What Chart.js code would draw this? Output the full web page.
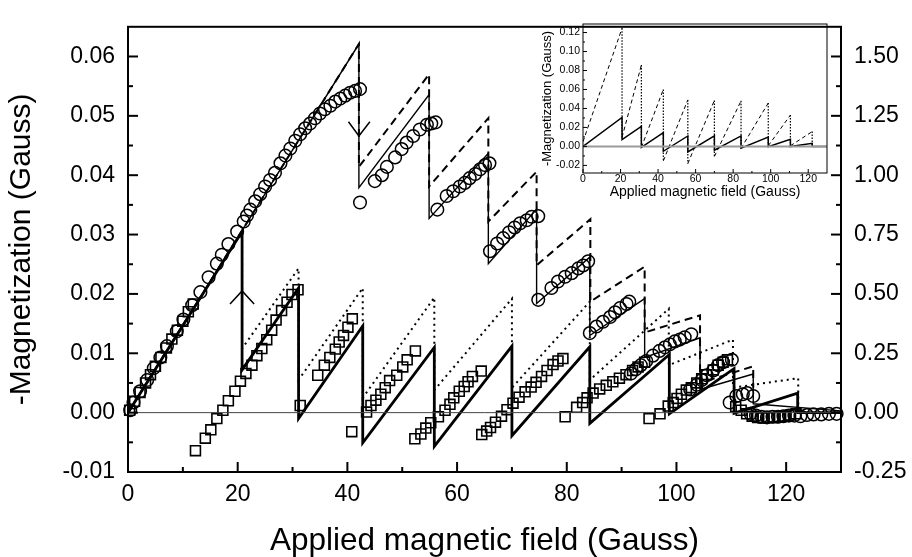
<!DOCTYPE html>
<html>
<head>
<meta charset="utf-8">
<script src="https://cdn.jsdelivr.net/npm/chart.js@4/dist/chart.umd.min.js"></script>
<style>
  body { margin: 0; background: #fff; }
  #wrap { position: relative; width: 912px; height: 557px; }
  #main { position: absolute; left: 0; top: 0; }
  #inset { position: absolute; left: 530px; top: 14px; }
</style>
</head>
<body>
<div id="wrap">
  <canvas id="main" width="912" height="557"></canvas>
  <canvas id="inset" width="305" height="190"></canvas>
</div>
<script>
// ---- measured data (Gauss) ----
const CIRCLE_X = [0.4, 1.0, 2.2, 3.5, 4.7, 5.9, 7.1, 8.9, 10.1, 11.7, 13.2, 14.7, 16.2, 17.1, 18.3, 19.9, 21.1, 21.7, 22.3, 23.2,
  24.1, 25.0, 25.9, 26.8, 27.8, 28.7, 29.6, 30.5, 31.4, 32.3, 33.2, 34.1, 35.0, 35.9, 36.9, 37.8, 38.7, 39.6, 40.5, 41.4, 42.3,
  42.3, 45.0, 46.3, 47.2, 48.7, 49.9, 50.8, 52.0, 53.2, 54.5, 55.3, 56.1,
  56.4, 58.1, 59.3, 60.5, 61.4, 62.3, 63.3, 64.2, 65.1, 65.9,
  66.0, 67.3, 68.4, 69.5, 70.5, 71.5, 72.7, 73.6, 74.8,
  74.8, 77.2, 78.4, 79.7, 80.9, 82.1, 83.0, 83.9,
  84.2, 85.4, 86.6, 87.9, 88.8, 89.7, 90.9, 91.4,
  91.7, 92.6, 93.5, 94.5, 95.7, 96.9, 97.9, 98.8, 99.7, 100.6, 101.5, 102.7,
  102.5, 103.7, 104.6, 105.5, 106.7, 107.6, 108.5, 110.1,
  109.7, 110.9, 112.1, 112.9, 114.0,
  113.5, 114.5, 115.5, 116.5, 117.5, 118.5, 119.5, 120.5, 121.5, 122.6, 123.8, 125.0, 126.4, 127.8, 129.2];
const CIRCLE_Y = [0.0004, 0.0017, 0.0036, 0.0055, 0.0075, 0.0093, 0.0112, 0.0137, 0.0157, 0.0181, 0.0203, 0.0228, 0.0251, 0.0266, 0.0284, 0.0305, 0.0322, 0.0332, 0.0342, 0.0356,
  0.0368, 0.0381, 0.0392, 0.0404, 0.0420, 0.0433, 0.0445, 0.0458, 0.0469, 0.0479, 0.0487, 0.0496, 0.0504, 0.0511, 0.0517, 0.0524, 0.0529, 0.0534, 0.0539, 0.0542, 0.0545,
  0.0354, 0.0390, 0.0400, 0.0414, 0.0430, 0.0444, 0.0455, 0.0466, 0.0477, 0.0485, 0.0487, 0.0489,
  0.0342, 0.0365, 0.0373, 0.0381, 0.0387, 0.0395, 0.0402, 0.0410, 0.0417, 0.0420,
  0.0272, 0.0285, 0.0294, 0.0304, 0.0312, 0.0319, 0.0324, 0.0330, 0.0331,
  0.0190, 0.0210, 0.0221, 0.0229, 0.0235, 0.0243, 0.0248, 0.0255,
  0.0134, 0.0145, 0.0153, 0.0161, 0.0169, 0.0176, 0.0183, 0.0187,
  0.0066, 0.0073, 0.0080, 0.0087, 0.0096, 0.0104, 0.0110, 0.0115, 0.0120, 0.0123, 0.0127, 0.0132,
  0.0039, 0.0047, 0.0055, 0.0063, 0.0071, 0.0080, 0.0085, 0.0089,
  0.0017, 0.0028, 0.0031, 0.0033, 0.0028,
  -0.0002, -0.0005, -0.0007, -0.0008, -0.0007, -0.0007, -0.0006, -0.0005, -0.0005, -0.0006, -0.0004, -0.0003, -0.0003, -0.0002, -0.0002];

const SQUARE_X = [0.3, 1.2, 2.2, 3.2, 4.1, 5.0, 6.0, 7.0, 8.0, 9.0, 10.0, 11.0, 11.9,
  12.3, 14.1, 15.1, 16.2, 17.3, 18.3, 19.5, 20.5, 21.5, 22.6, 23.5, 24.4, 25.3, 26.2, 27.0, 28.0, 29.0, 29.9, 31.0,
  31.4, 34.6, 35.8, 36.8, 37.8, 38.5, 39.3, 40.1, 40.9,
  40.8, 43.5, 44.3, 45.2, 46.1, 46.9, 47.7, 49.0, 50.1, 50.9, 52.4,
  52.3, 53.4, 54.3, 55.2, 56.6, 57.8, 58.7, 59.4, 60.4, 61.3, 62.0, 62.8, 64.4,
  64.5, 65.4, 66.1, 67.0, 68.1, 69.1, 70.2, 71.3, 72.4, 73.5, 74.4, 75.4, 76.4, 77.5, 78.4, 79.3,
  79.7, 81.8, 82.9, 83.7, 84.8, 86.0, 87.2, 88.4, 89.6, 90.8, 92.0, 93.0, 94.2,
  95.0, 97.0, 98.5, 99.4, 100.1, 100.9, 101.8, 102.7, 103.7, 104.6, 105.5, 106.7, 107.6, 108.5, 109.3,
  110.8, 111.8, 112.8, 113.8, 114.8, 115.8, 116.8, 117.8, 118.8, 119.8, 120.8, 121.8];
const SQUARE_Y = [0.0004, 0.0019, 0.0034, 0.0050, 0.0064, 0.0078, 0.0093, 0.0109, 0.0124, 0.0139, 0.0154, 0.0170, 0.0183,
  -0.0064, -0.0043, -0.0029, -0.0010, 0.0004, 0.0020, 0.0036, 0.0053, 0.0066, 0.0080, 0.0096, 0.0108, 0.0123, 0.0139, 0.0156, 0.0172, 0.0186, 0.0199, 0.0207,
  0.0012, 0.0063, 0.0080, 0.0093, 0.0107, 0.0119, 0.0130, 0.0144, 0.0158,
  -0.0032, 0.0001, 0.0012, 0.0021, 0.0031, 0.0042, 0.0054, 0.0063, 0.0077, 0.0089, 0.0104,
  -0.0044, -0.0036, -0.0026, -0.0017, -0.0007, 0.0004, 0.0014, 0.0025, 0.0036, 0.0044, 0.0052, 0.0061, 0.0070,
  -0.0037, -0.0031, -0.0025, -0.0016, -0.0006, 0.0005, 0.0016, 0.0026, 0.0035, 0.0043, 0.0051, 0.0061, 0.0071, 0.0081, 0.0087, 0.0091,
  -0.0007, 0.0009, 0.0017, 0.0025, 0.0033, 0.0040, 0.0046, 0.0052, 0.0058, 0.0064, 0.0071, 0.0077, 0.0085,
  -0.0010, -0.0002, 0.0011, 0.0017, 0.0024, 0.0031, 0.0038, 0.0042, 0.0050, 0.0057, 0.0064, 0.0072, 0.0080, 0.0085, 0.0089,
  0.0010, 0.0004, -0.0002, -0.0006, -0.0008, -0.0009, -0.0008, -0.0008, -0.0007, -0.0006, -0.0004, -0.0002];

// ---- model curves: field of each jump, value just before it, value just after it ----
const MODEL_A_X = [42.1, 54.9, 65.7, 74.5, 84.2, 94.2, 104.3, 114.0];           // thin solid
const MODEL_A_PEAK = [0.0621, 0.0536, 0.0437, 0.0343, 0.0262, 0.0192, 0.0126, 0.0065];
const MODEL_A_RESET = [0.0379, 0.0327, 0.0251, 0.0184, 0.0130, 0.0093, 0.0039, 0.0015];
const MODEL_A_END = [130, 0.0003];

const MODEL_B_X = [42.1, 54.9, 65.7, 74.5, 84.3, 94.2, 104.3, 114.0];           // dashed
const MODEL_B_PEAK = [0.0621, 0.0570, 0.0496, 0.0406, 0.0326, 0.0246, 0.0164, 0.0078];
const MODEL_B_RESET = [0.0414, 0.0381, 0.0322, 0.0248, 0.0187, 0.0135, 0.0050, 0.0042];

const MODEL_C_X = [20.8, 31.1, 42.8, 55.85, 70.0, 84.2, 98.7, 110.5, 122.1];    // thick solid (also inset solid)
const MODEL_C_PEAK = [0.0305, 0.0210, 0.0146, 0.0110, 0.0112, 0.0111, 0.0098, 0.0074, 0.0033];
const MODEL_C_RESET = [0.0072, -0.0010, -0.0051, -0.0057, -0.0039, -0.0018, -0.0002, -0.0001, 0.0];
const MODEL_C_END = [130, 0.0];

const MODEL_D_X = [20.8, 31.1, 42.8, 55.85, 70.0, 84.2, 98.6, 110.3, 122.2];    // dotted
const MODEL_D_PEAK = [0.0305, 0.0243, 0.0210, 0.0194, 0.0192, 0.0187, 0.0175, 0.0123, 0.0058];
const MODEL_D_RESET = [0.0108, 0.0055, 0.0025, 0.0038, 0.0042, 0.0055, 0.0080, 0.0042, 0.0];

// inset: large-amplitude model, same jump fields as MODEL_C
const INSET_START = 0.005;
const INSET_PEAK = [0.1246, 0.0857, 0.0600, 0.0490, 0.0485, 0.0480, 0.0457, 0.0330, 0.0156];
const INSET_RESET = [0.0096, -0.0010, -0.0152, -0.0180, -0.0106, -0.0020, 0.0007, 0.0007, 0.0];

// arrows
const ARROW_UP_X = [18.6, 20.8, 23.0];
const ARROW_UP_Y = [0.0183, 0.0205, 0.0183];
const ARROW_DOWN_X = [40.2, 42.1, 44.1];
const ARROW_DOWN_Y = [0.0490, 0.0466, 0.0490];

// ticks
const X_TICKS = [0, 20, 40, 60, 80, 100, 120];
const X_MINOR = [10, 30, 50, 70, 90, 110];
const Y_TICKS = [-0.01, 0, 0.01, 0.02, 0.03, 0.04, 0.05, 0.06];
const Y_MINOR = [-0.005, 0.005, 0.015, 0.025, 0.035, 0.045, 0.055];
const Y2_TICKS = [-0.25, 0, 0.25, 0.5, 0.75, 1.0, 1.25, 1.5];
const Y2_MINOR = [-0.125, 0.125, 0.375, 0.625, 0.875, 1.125, 1.375];
const INSET_Y_TICKS = [-0.02, 0, 0.02, 0.04, 0.06, 0.08, 0.10, 0.12];
const INSET_Y_MINOR = [-0.01, 0.01, 0.03, 0.05, 0.07, 0.09, 0.11];
const ZERO_X = [0, 130];

Chart.defaults.font.family = '"Liberation Sans", Arial, sans-serif';
Chart.defaults.color = '#000';

function pts(xs, ys) {
  return xs.map((x, i) => ({x: x, y: ys[i]}));
}

// sawtooth: rise from start to each peak, then vertical jump to the reset value
function sawtooth(startY, xs, peaks, resets, end) {
  const out = [{x: 0, y: startY}];
  xs.forEach((x, i) => {
    out.push({x: x, y: peaks[i]});
    out.push({x: x, y: resets[i]});
  });
  if (end) out.push({x: end[0], y: end[1]});
  return out;
}

// only the rising parts / only the jumps, with gaps between pieces
function rises(startY, xs, peaks, resets) {
  const out = [{x: 0, y: startY}];
  xs.forEach((x, i) => {
    out.push({x: x, y: peaks[i]});
    out.push({x: x, y: null});
    if (i < xs.length - 1) out.push({x: x, y: resets[i]});
  });
  return out;
}
function drops(xs, peaks, resets) {
  const out = [];
  xs.forEach((x, i) => {
    out.push({x: x, y: peaks[i]});
    out.push({x: x, y: resets[i]});
    out.push({x: x, y: null});
  });
  return out;
}

function line(data, width, dash, color) {
  return {
    data: data, borderColor: color || '#000', borderWidth: width, borderDash: dash || [],
    pointRadius: 0, fill: false, tension: 0, spanGaps: false, borderCapStyle: 'butt'
  };
}

// frame + inward tick marks
const frameTicks = {
  id: 'frameTicks',
  afterDatasetsDraw(chart, args, opts) {
    const ctx = chart.ctx;
    const a = chart.chartArea;
    ctx.save();
    ctx.strokeStyle = '#000';
    ctx.lineWidth = opts.width;
    ctx.strokeRect(a.left, a.top, a.right - a.left, a.bottom - a.top);
    opts.marks.forEach(m => {
      const s = chart.scales[m.scale];
      [[m.major, m.len], [m.minor, m.len / 2]].forEach(([vals, len]) => {
        vals.forEach(v => {
          const p = s.getPixelForValue(v);
          ctx.beginPath();
          if (m.side === 'left') { ctx.moveTo(a.left, p); ctx.lineTo(a.left + len, p); }
          else if (m.side === 'right') { ctx.moveTo(a.right, p); ctx.lineTo(a.right - len, p); }
          else { ctx.moveTo(p, a.bottom); ctx.lineTo(p, a.bottom - len); }
          ctx.stroke();
        });
      });
    });
    ctx.restore();
  }
};

const tickFont = {size: 23};

new Chart(document.querySelector('#main'), {
  type: 'line',
  data: {
    datasets: [
      line(pts(ZERO_X, [0, 0]), 1, null, '#444'),
      line(sawtooth(0, MODEL_A_X, MODEL_A_PEAK, MODEL_A_RESET, MODEL_A_END), 1.4),
      line(sawtooth(0, MODEL_B_X, MODEL_B_PEAK, MODEL_B_RESET), 2, [8, 5]),
      line(sawtooth(0, MODEL_C_X, MODEL_C_PEAK, MODEL_C_RESET, MODEL_C_END), 2.8),
      line(sawtooth(0, MODEL_D_X, MODEL_D_PEAK, MODEL_D_RESET), 2, [2, 4]),
      line(pts(ARROW_UP_X, ARROW_UP_Y), 1.5),
      line(pts(ARROW_DOWN_X, ARROW_DOWN_Y), 1.5),
      {
        data: pts(SQUARE_X, SQUARE_Y), showLine: false, clip: false,
        pointStyle: 'rect', pointRadius: 7, pointBorderWidth: 1.6,
        pointBorderColor: '#000', pointBackgroundColor: 'rgba(0,0,0,0)'
      },
      {
        data: pts(CIRCLE_X, CIRCLE_Y), showLine: false, clip: false,
        pointStyle: 'circle', pointRadius: 6.3, pointBorderWidth: 1.5,
        pointBorderColor: '#000', pointBackgroundColor: 'rgba(0,0,0,0)'
      }
    ]
  },
  options: {
    responsive: false,
    animation: false,
    events: [],
    layout: {padding: {top: 12, left: 0, right: 0, bottom: 0}},
    plugins: {
      legend: {display: false},
      tooltip: {enabled: false},
      frameTicks: {
        width: 2,
        marks: [
          {scale: 'y', side: 'left', major: Y_TICKS, minor: Y_MINOR, len: 10},
          {scale: 'y2', side: 'right', major: Y2_TICKS, minor: Y2_MINOR, len: 10},
          {scale: 'x', side: 'bottom', major: X_TICKS, minor: X_MINOR, len: 10}
        ]
      }
    },
    scales: {
      x: {
        type: 'linear', min: 0, max: 130,
        afterBuildTicks: s => { s.ticks = X_TICKS.map(v => ({value: v})); },
        afterFit: s => { s.height = 85; },
        ticks: {font: tickFont, padding: 9, maxRotation: 0, autoSkip: false},
        grid: {display: false, drawTicks: false},
        border: {display: false},
        title: {display: true, text: 'Applied magnetic field (Gauss)', font: {size: 31.5, lineHeight: 1}, padding: {top: 0, bottom: 0}}
      },
      y: {
        min: -0.01, max: 0.065,
        afterBuildTicks: s => { s.ticks = Y_TICKS.map(v => ({value: v})); },
        afterFit: s => { s.width = 128; },
        ticks: {font: tickFont, padding: 13, callback: v => v.toFixed(2)},
        grid: {display: false, drawTicks: false},
        border: {display: false},
        title: {display: true, text: '-Magnetization (Gauss)', font: {size: 30, lineHeight: 1}, padding: {top: 7, bottom: 0}}
      },
      y2: {
        position: 'right', min: -0.25, max: 1.625,
        afterBuildTicks: s => { s.ticks = Y2_TICKS.map(v => ({value: v})); },
        afterFit: s => { s.width = 71; },
        ticks: {font: tickFont, padding: 13, callback: v => v.toFixed(2)},
        grid: {display: false, drawTicks: false},
        border: {display: false}
      }
    }
  },
  plugins: [frameTicks]
});

// inset
new Chart(document.querySelector('#inset'), {
  type: 'line',
  data: {
    datasets: [
      line(pts(ZERO_X, [0, 0]), 2, null, '#9a9a9a'),
      line(sawtooth(0, MODEL_C_X, MODEL_C_PEAK, MODEL_C_RESET, MODEL_C_END), 1.5),
      line(rises(INSET_START, MODEL_C_X, INSET_PEAK, INSET_RESET), 1, [4, 3]),
      line(drops(MODEL_C_X, INSET_PEAK, INSET_RESET), 1.2, [1.5, 1.5])
    ]
  },
  options: {
    responsive: false,
    animation: false,
    events: [],
    layout: {padding: {top: 10, left: 0, right: 8, bottom: 0}},
    plugins: {
      legend: {display: false},
      tooltip: {enabled: false},
      frameTicks: {
        width: 1,
        marks: [
          {scale: 'y', side: 'left', major: INSET_Y_TICKS, minor: INSET_Y_MINOR, len: 4},
          {scale: 'x', side: 'bottom', major: X_TICKS, minor: X_MINOR, len: 4}
        ]
      }
    },
    scales: {
      x: {
        type: 'linear', min: 0, max: 130,
        afterBuildTicks: s => { s.ticks = X_TICKS.map(v => ({value: v})); },
        afterFit: s => { s.height = 31; },
        ticks: {font: {size: 10.5, lineHeight: 1}, padding: 1, maxRotation: 0, autoSkip: false},
        grid: {display: false, drawTicks: false},
        border: {display: false},
        title: {display: true, text: 'Applied magnetic field (Gauss)', font: {size: 14, lineHeight: 1}, padding: {top: 0, bottom: 5}}
      },
      y: {
        min: -0.028, max: 0.129,
        afterBuildTicks: s => { s.ticks = INSET_Y_TICKS.map(v => ({value: v})); },
        afterFit: s => { s.width = 53; },
        ticks: {font: {size: 10.5}, padding: 3, callback: v => v.toFixed(2)},
        grid: {display: false, drawTicks: false},
        border: {display: false},
        title: {display: true, text: '-Magnetization (Gauss)', font: {size: 13, lineHeight: 1}, padding: {top: 11, bottom: 0}}
      }
    }
  },
  plugins: [frameTicks]
});
</script>
</body>
</html>
